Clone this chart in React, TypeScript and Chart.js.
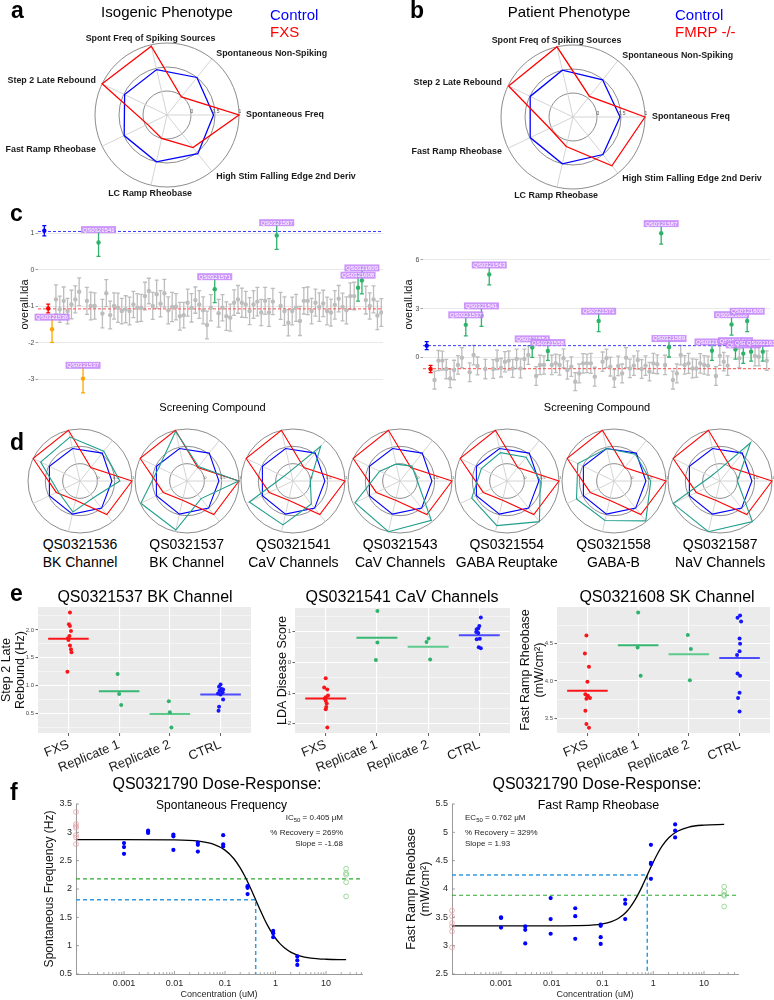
import React, { useEffect, useRef } from 'react';
import { Chart, registerables } from 'chart.js';

Chart.register(...registerables);

const FONT = "'Liberation Sans', Arial, Helvetica, sans-serif";
Chart.defaults.font.family = FONT;
Chart.defaults.color = '#333333';
(Chart.defaults.plugins as any).legend.display = false;
(Chart.defaults.plugins as any).tooltip.enabled = false;

const BLUE = '#0000ff';
const RED = '#ff0000';
const TEAL = '#1f9e8c';
const GRAY = '#bdbdbd';
const GREEN = '#2fb26a';
const ORANGE = '#ffa500';

/* ---------------- radar data (panels a, b, d) ---------------- */
const radarAxes = [
  'Spontaneous Freq',
  'High Stim Falling Edge 2nd Deriv',
  'LC Ramp Rheobase',
  'Fast Ramp Rheobase',
  'Step 2 Late Rebound',
  'Spont Freq of Spiking Sources',
  'Spontaneous Non-Spiking',
];
const radarRingTicks = [0, 0.5, 1];
const isoControl = [0.47, 0.53, 0.5, 0.49, 0.48, 0.47, 0.5];
const isoFXS = [1.0, 0.37, 0.0, -0.05, 1.0, 0.97, -0.02];
const patControl = [0.48, 0.5, 0.5, 0.49, 0.49, 0.5, 0.49];
const patFMRP = [1.0, 0.8, 0.13, 0.04, 0.99, 1.0, 0.05];
const dControl = [0.42, 0.5, 0.48, 0.48, 0.48, 0.46, 0.53];
const dFXS = [1.0, 0.74, 0.07, 0.26, 1.0, 1.0, 0.0];
const dCompounds = ['QS0321536', 'QS0321537', 'QS0321541', 'QS0321543', 'QS0321554', 'QS0321558', 'QS0321587'];
const dTargets = ['BK Channel', 'BK Channel', 'CaV Channels', 'CaV Channels', 'GABA Reuptake', 'GABA-B', 'NaV Channels'];
const dTreated1536 = [0.65, 0.12, 0.42, 0.2, 0.76, 0.8, 0.6];
const dTreated1537 = [0.99, 0.15, 0.95, 0.98, 0.4, 0.97, 0.03];
const dTreated1541 = [0.0, 0.35, 0.8, 0.9, -0.2, -0.2, 0.78];
const dTreated1543 = [0.0, 0.95, 1.0, 0.94, 0.15, 0.0, 0.05];
const dTreated1554 = [0.46, 1.0, 0.82, 0.63, 0.32, 0.34, 0.38];
const dTreated1558 = [0.56, 0.97, 0.67, 0.7, 0.66, 0.46, 0.49];
const dTreated1587 = [0.0, 1.0, 1.0, 1.0, -0.2, -0.2, 0.91];
const dTreated = [dTreated1536, dTreated1537, dTreated1541, dTreated1543, dTreated1554, dTreated1558, dTreated1587];

/* ---------------- panel c data ---------------- */
// kinds: C = control, F = FXS, O = worsening hit, G = rescuing hit, . = other compound
const cLeftKinds = 'CFO.......O...G.............................G...............G....................GG.....';
const cLeftVals = [
  1.07, -1.06, -1.63,
  -0.81, -1.08, -0.85, -1.13, -0.95, -0.81, -0.6,
  -2.98,
  -0.85, -0.99, -0.99,
  0.75,
  -1.2, -0.64, -1.24, -0.99, -1.04, -1.13, -1.08, -1.13, -0.95, -1.04, -1.04, -0.72, -0.58, -0.99, -0.67,
  -0.93, -0.64, -1.11, -1.02, -1.01, -1.27, -1.24, -0.9, -1.04, -0.83, -0.95, -1.11, -1.51, -1.04,
  -0.53,
  -1.19, -1.04, -1.27, -1.31, -0.9, -0.81, -0.9, -0.95, -1.13, -0.95, -0.87, -1.17, -0.85, -1.17, -0.87,
  0.94,
  -0.99, -1.13, -1.45, -1.13, -1.04, -1.4, -0.85, -0.85, -1.13, -0.9, -1.02, -0.92, -1.13, -1.17, -0.96,
  -0.79, -1.02, -1.11, -0.72, -0.72,
  -0.49, -0.29,
  -0.83, -0.99, -0.81, -1.25, -1.17,
];
const cLeftErrs = [
  0.14, 0.12, 0.36,
  0.4, 0.36, 0.38, 0.35, 0.39, 0.37, 0.38,
  0.39,
  0.37, 0.38, 0.36,
  0.38,
  0.39, 0.37, 0.38, 0.36, 0.4, 0.35, 0.37, 0.38, 0.36, 0.39, 0.37, 0.38, 0.35, 0.37, 0.39,
  0.36, 0.38, 0.37, 0.4, 0.36, 0.38, 0.35, 0.37, 0.39, 0.36, 0.38, 0.37, 0.38, 0.36,
  0.37,
  0.38, 0.36, 0.39, 0.37, 0.35, 0.38, 0.4, 0.36, 0.37, 0.38, 0.39, 0.36, 0.37, 0.38, 0.36,
  0.38,
  0.37, 0.39, 0.36, 0.38, 0.37, 0.4, 0.36, 0.38, 0.35, 0.37, 0.39, 0.36, 0.38, 0.37, 0.39,
  0.36, 0.38, 0.37, 0.36, 0.38,
  0.37, 0.37,
  0.38, 0.36, 0.37, 0.39, 0.38,
];
const cLeftHitIdx = [2, 10, 14, 44, 60, 81, 82];
const cLeftHitNames = ['QS0321536', 'QS0321537', 'QS0321541', 'QS0321571', 'QS0321587', 'QS0321608', 'QS0321609'];
const cLeftCtrlMean = 1.05;
const cLeftFxsMean = -1.07;
const cLeftYTicks = [-3, -2, -1, 0, 1];

const cRightKinds = 'CF........G...G.G..........G...G............G...............G.G..........G....GG.GGG..G.';
const cRightVals = [
  0.72, -0.72,
  -1.4, -0.2, -0.2, -0.72, -1.3, -0.78, -0.47, -0.02,
  2.0,
  -0.92, 0.14, -0.53,
  2.57,
  -0.72,
  5.11,
  -0.72, -0.16, -0.64, -0.27, -0.2, -0.68, -0.1, -0.68, -0.1, 0.14,
  0.6,
  -1.15, -0.47, -0.47,
  0.39,
  -0.47, -0.37, -0.47, -0.06, -0.78, -0.57, -1.5, -0.99, -0.37, -0.37, -0.37, -1.19,
  2.24,
  -0.27, -0.06, -0.57, -1.3, -0.53, -0.99, -0.02, -0.68, -0.51, -0.16, -0.72, -0.51, -0.88, -0.37, -0.43,
  7.64,
  -0.47,
  0.62,
  -1.4, -0.99, 0.14, -0.47, -0.37, -0.68, -0.68, -0.37, -0.47, -0.51,
  0.41,
  -1.15, 0.1, -0.27, -0.51,
  2.03, 0.49,
  -0.06,
  0.23, 2.24, 0.35,
  0.08, 0.04,
  0.35,
  -0.2,
];
const cRightErrs = [
  0.25, 0.22,
  0.55, 0.62, 0.58, 0.6, 0.56, 0.6, 0.57, 0.62,
  0.68,
  0.58, 0.6, 0.55,
  0.66,
  0.6,
  0.64,
  0.58, 0.6, 0.57, 0.62, 0.59, 0.56, 0.6, 0.58, 0.61, 0.57,
  0.6,
  0.58, 0.6, 0.56,
  0.58,
  0.6, 0.57, 0.62, 0.58, 0.56, 0.6, 0.55, 0.58, 0.6, 0.57, 0.62, 0.58,
  0.66,
  0.6, 0.57, 0.58, 0.55, 0.6, 0.58, 0.62, 0.57, 0.6, 0.56, 0.58, 0.6, 0.57, 0.61, 0.58,
  0.66,
  0.6,
  0.6,
  0.55, 0.58, 0.6, 0.57, 0.62, 0.58, 0.56, 0.6, 0.57, 0.59,
  0.6,
  0.58, 0.6, 0.57, 0.6,
  0.66, 0.6,
  0.58,
  0.6, 0.66, 0.58,
  0.6, 0.57,
  0.58,
  0.6,
];
const cRightHitIdx = [10, 14, 16, 27, 31, 44, 60, 62, 73, 78, 79, 81, 82, 83, 86];
const cRightHitNames = ['QS0321537', 'QS0321541', 'QS0321543', 'QS0321554', 'QS0321558', 'QS0321571', 'QS0321587',
  'QS0321589', 'QS0321596', 'QS0321608', 'QS0321605', 'QS0321606', 'QS0321609', 'QS0321610', 'QS0321612'];
const cRightCtrlMean = 0.72;
const cRightFxsMean = -0.7;
const cRightYTicks = [0, 3, 6];

/* ---------------- panel e data ---------------- */
const eCats = ['FXS', 'Replicate 1', 'Replicate 2', 'CTRL'];
const eLeftFXS = [2.31, 2.1, 2.07, 1.98, 1.89, 1.85, 1.82, 1.72, 1.65, 1.6, 1.25];
const eLeftRep1 = [1.21, 0.85, 0.65];
const eLeftRep2 = [0.72, 0.52, 0.25];
const eLeftCTRL = [1.02, 0.98, 0.94, 0.93, 0.91, 0.88, 0.86, 0.84, 0.75, 0.62, 0.55];
const eLeftJitter = [
  [0.03, 0.01, 0.03, 0.05, 0.02, -0.01, 0.0, 0.03, 0.05, 0.06, -0.02],
  [-0.03, 0.0, 0.04],
  [-0.02, 0.0, 0.03],
  [0.0, -0.03, 0.02, 0.05, -0.02, 0.04, -0.05, 0.0, 0.05, -0.03, -0.04],
];
const eLeftMeans = [1.84, 0.9, 0.49, 0.84];
const eLeftMajor = [0.5, 1.0, 1.5, 2.0];
const eLeftMinor = [0.25, 0.75, 1.25, 1.75, 2.25];

const eMidFXS = [-0.52, -0.82, -0.88, -1.08, -1.14, -1.18, -1.25, -1.34, -1.45, -1.53, -2.12];
const eMidRep1 = [1.67, 0.65, 0.08];
const eMidRep2 = [0.78, 0.66, 0.09];
const eMidCTRL = [1.46, 1.18, 1.1, 1.08, 0.99, 0.96, 0.77, 0.75, 0.49, 0.46];
const eMidJitter = [
  [0.0, -0.03, 0.03, 0.045, 0.0, -0.02, 0.0, 0.02, 0.01, 0.0, 0.03],
  [0.01, 0.01, -0.02],
  [0.01, -0.03, 0.04],
  [0.03, 0.0, -0.02, -0.05, -0.06, -0.02, 0.01, -0.05, -0.01, 0.03],
];
const eMidMeans = [-1.18, 0.8, 0.51, 0.88];
const eMidMajor = [-2, -1, 0, 1];
const eMidMinor = [-1.5, -0.5, 0.5, 1.5];

const eRightFXS = [4.61, 4.37, 4.19, 3.99, 3.82, 3.8, 3.79, 3.77, 3.76, 3.6, 3.42, 3.37];
const eRightRep1 = [4.92, 4.45, 4.07];
const eRightRep2 = [4.62, 4.43, 4.01];
const eRightCTRL = [4.88, 4.85, 4.8, 4.57, 4.5, 4.4, 4.35, 4.1, 4.07, 3.84, 3.77, 3.59];
const eRightJitter = [
  [-0.02, -0.05, 0.03, 0.0, -0.04, 0.01, 0.0, 0.05, -0.02, -0.04, -0.02, 0.03],
  [0.0, -0.01, 0.05],
  [-0.02, 0.04, 0.02],
  [0.01, -0.04, 0.03, 0.0, 0.01, 0.0, -0.05, -0.04, 0.01, 0.0, -0.03, 0.0],
];
const eRightMeans = [3.87, 4.48, 4.36, 4.31];
const eRightMajor = [3.5, 4.0, 4.5];
const eRightMinor = [3.75, 4.25, 4.75];

/* ---------------- panel f data ---------------- */
const fMajorTicks = [0.001, 0.01, 0.1, 1, 10];
const fTickLabels = ['0.001', '0.01', '0.1', '1', '10'];

const fLeftDoseX = [0.001, 0.001, 0.001, 0.003, 0.003, 0.003, 0.0095, 0.0095, 0.0095, 0.029, 0.029, 0.029,
  0.092, 0.092, 0.092, 0.28, 0.28, 0.28, 0.9, 0.9, 0.9, 2.7, 2.7, 2.7];
const fLeftDoseY = [2.81, 2.74, 2.62, 3.03, 3.01, 2.99, 2.96, 2.93, 2.69, 2.82, 2.78, 2.66,
  2.95, 2.79, 2.75, 2.05, 2.02, 1.91, 1.26, 1.22, 1.15, 0.81, 0.74, 0.66];
const fLeftFXS = [3.36, 3.15, 3.11, 3.08, 2.95, 2.91, 2.79];
const fLeftCTRL = [2.36, 2.28, 2.25, 2.12, 1.87];
const fLeftCurveX = [0.000112, 0.001, 0.01, 0.03, 0.06, 0.1, 0.15, 0.2, 0.25, 0.3, 0.35, 0.405, 0.5, 0.6, 0.7,
  0.85, 1, 1.2, 1.5, 2, 3, 5, 10, 25];
const fLeftCurveY = [2.87, 2.87, 2.866, 2.844, 2.788, 2.686, 2.534, 2.373, 2.217, 2.072, 1.939, 1.81, 1.624,
  1.472, 1.354, 1.224, 1.131, 1.044, 0.962, 0.886, 0.821, 0.781, 0.76, 0.752];
const fLeftYTicks = [0.5, 1, 1.5, 2, 2.5, 3, 3.5];

const fRightDoseX = [0.001, 0.001, 0.001, 0.003, 0.003, 0.003, 0.0095, 0.0095, 0.0095, 0.029, 0.029, 0.029,
  0.092, 0.092, 0.092, 0.092, 0.28, 0.28, 0.28, 0.9, 0.9, 0.9, 0.9, 2.7, 2.7, 2.7];
const fRightDoseY = [3.5, 3.49, 3.32, 3.34, 3.28, 3.04, 3.84, 3.47, 3.21, 3.66, 3.52, 3.12,
  3.37, 3.35, 3.15, 3.03, 3.81, 3.74, 3.47, 4.78, 4.46, 4.44, 4.18, 5.14, 5.03, 4.91];
const fRightFXS = [3.62, 3.52, 3.4, 3.34, 3.25, 2.97];
const fRightCTRL = [4.04, 3.95, 3.9, 3.88, 3.69];
const fRightCurveX = [0.000108, 0.001, 0.01, 0.03, 0.06, 0.1, 0.15, 0.2, 0.25, 0.3, 0.35, 0.45, 0.5, 0.6, 0.762,
  0.9, 1, 1.2, 1.5, 2, 3, 5, 10, 25];
const fRightCurveY = [3.35, 3.35, 3.35, 3.354, 3.363, 3.385, 3.425, 3.476, 3.536, 3.604, 3.676, 3.826, 3.9,
  4.042, 4.245, 4.387, 4.474, 4.614, 4.759, 4.9, 5.02, 5.094, 5.128, 5.14];
const fRightYTicks = [2.5, 3, 3.5, 4, 4.5, 5, 5.5];

/* ---------------- helpers ---------------- */
const fixW = (w: number) => (s: any) => {
  s.width = w;
  s.paddingLeft = 0; s.paddingRight = 0; s.paddingTop = 0; s.paddingBottom = 0;
};
const fixH = (h: number) => (s: any) => {
  s.height = h;
  s.paddingLeft = 0; s.paddingRight = 0; s.paddingTop = 0; s.paddingBottom = 0;
};

function radarDecor(showLabels: boolean, tickFont: number) {
  return {
    id: 'radarDecor',
    afterDraw(chart: any) {
      const s = chart.scales.r;
      const ctx = chart.ctx;
      ctx.save();
      if (tickFont > 0) {
        ctx.font = `${tickFont}px ${FONT}`;
        ctx.fillStyle = '#555';
        ctx.textAlign = 'center';
        ctx.textBaseline = 'bottom';
        radarRingTicks.forEach((v) => {
          const p = s.getPointPositionForValue(0, v);
          ctx.fillText(String(v), p.x + 1, p.y - 1);
        });
      }
      if (showLabels) {
        ctx.font = `bold 8.9px ${FONT}`;
        ctx.fillStyle = '#1a1a1a';
        chart.data.labels.forEach((lab: string, i: number) => {
          const a = s.getIndexAngle(i) - Math.PI / 2;
          const c = Math.cos(a);
          const sn = Math.sin(a);
          let off: number;
          if (Math.abs(c) > 0.3) {
            off = 7;
            ctx.textAlign = c > 0 ? 'left' : 'right';
            ctx.textBaseline = 'middle';
          } else {
            off = sn < 0 ? 2 : 4;
            ctx.textAlign = 'center';
            ctx.textBaseline = sn < 0 ? 'bottom' : 'top';
          }
          const p = s.getPointPosition(i, s.drawingArea + off);
          ctx.fillText(lab, p.x, p.y);
        });
      }
      ctx.restore();
    },
  };
}

function radarConfig(series: { data: number[]; color: string }[], pad: any, showLabels: boolean, tickFont: number, lw: number) {
  return {
    type: 'radar',
    data: {
      labels: radarAxes,
      datasets: series.map((s) => ({
        data: s.data, borderColor: s.color, backgroundColor: 'rgba(0,0,0,0)', borderWidth: lw,
        pointRadius: 0, fill: false, tension: 0,
      })),
    },
    options: {
      responsive: false, animation: false, devicePixelRatio: 1,
      layout: { padding: pad },
      scales: {
        r: {
          min: -0.5, max: 1, startAngle: 90,
          afterBuildTicks: (s: any) => { s.ticks = [-0.5, ...radarRingTicks].map((v) => ({ value: v })); },
          ticks: { display: false },
          pointLabels: { display: false },
          grid: { circular: true, color: '#808080', lineWidth: 0.9 },
          angleLines: { color: '#cfcfcf', lineWidth: 0.9 },
        },
      },
    },
    plugins: [radarDecor(showLabels, tickFont)],
  };
}

const errPlugin = {
  id: 'errBars',
  beforeDatasetsDraw(chart: any) {
    const { ctx } = chart;
    const x = chart.scales.x;
    const y = chart.scales.y;
    ctx.save();
    chart.data.datasets.forEach((ds: any) => {
      if (!ds.errBars) return;
      ctx.strokeStyle = ds.backgroundColor;
      ctx.lineWidth = 1.3;
      ctx.beginPath();
      ds.data.forEach((p: any) => {
        const px = x.getPixelForValue(p.x);
        const y1 = y.getPixelForValue(p.y - p.e);
        const y2 = y.getPixelForValue(p.y + p.e);
        ctx.moveTo(px, y1); ctx.lineTo(px, y2);
        ctx.moveTo(px - 2, y1); ctx.lineTo(px + 2, y1);
        ctx.moveTo(px - 2, y2); ctx.lineTo(px + 2, y2);
      });
      ctx.stroke();
    });
    ctx.restore();
  },
  afterDatasetsDraw(chart: any) {
    const { ctx } = chart;
    const x = chart.scales.x;
    const y = chart.scales.y;
    ctx.save();
    ctx.font = `6px ${FONT}`;
    ctx.textAlign = 'center';
    ctx.textBaseline = 'middle';
    chart.data.datasets.forEach((ds: any) => {
      if (!ds.errBars) return;
      ds.data.forEach((p: any) => {
        if (!p.name) return;
        const px = x.getPixelForValue(p.x);
        const py = y.getPixelForValue(p.y + p.e) + 1;
        const w = ctx.measureText(p.name).width + 3;
        ctx.fillStyle = 'rgba(196,132,250,0.85)';
        ctx.fillRect(px - w / 2, py - 3.5, w, 7);
        ctx.fillStyle = '#ffffff';
        ctx.fillText(p.name, px, py + 0.3);
      });
    });
    ctx.restore();
  },
};

function cConfig(vals: number[], errs: number[], kinds: string, hitIdx: number[], hitNames: string[],
  ctrlMean: number, fxsMean: number, yTicks: number[], sc: any, dims: any) {
  const pts = vals.map((v, i) => ({ x: i, y: v, e: errs[i], name: hitIdx.indexOf(i) >= 0 ? hitNames[hitIdx.indexOf(i)] : '' }));
  const pick = (k: string) => pts.filter((_, i) => kinds[i] === k);
  const dot = (k: string, color: string, order: number) => ({
    type: 'scatter', data: pick(k), backgroundColor: color, borderColor: color, borderWidth: 0,
    pointRadius: 2.2, errBars: true, order,
  });
  const hline = (v: number, color: string) => ({
    type: 'line', data: [{ x: sc.xMin, y: v }, { x: sc.xMax, y: v }], borderColor: color, borderWidth: 1,
    borderDash: [3, 2], pointRadius: 0, order: 9,
  });
  return {
    type: 'scatter',
    data: {
      datasets: [dot('.', GRAY, 5), dot('G', GREEN, 2), dot('O', ORANGE, 2), dot('C', BLUE, 2), dot('F', RED, 2),
        hline(ctrlMean, '#3b3bff'), hline(fxsMean, '#ff4a4a')],
    },
    options: {
      responsive: false, animation: false, devicePixelRatio: 1,
      layout: { padding: { left: 0, top: dims.padT, right: dims.padR, bottom: dims.padB } },
      scales: {
        x: { type: 'linear', min: sc.xMin, max: sc.xMax, display: false },
        y: {
          min: sc.yMin, max: sc.yMax,
          afterBuildTicks: (s: any) => { s.ticks = yTicks.map((v) => ({ value: v })); },
          afterFit: fixW(dims.yw),
          ticks: { font: { size: 7 }, color: '#4d4d4d', padding: 1 },
          grid: { color: '#e3e3e3', lineWidth: 0.8, tickLength: 2.5, tickColor: '#666', tickWidth: 0.6 },
          border: { display: false },
          title: { display: true, text: 'overall.lda', font: { size: 11 }, color: '#111', padding: 0 },
        },
      },
    },
    plugins: [errPlugin],
  };
}

const panelBg = (color: string) => ({
  id: 'panelBg',
  beforeDraw(chart: any) {
    const a = chart.chartArea;
    chart.ctx.save();
    chart.ctx.fillStyle = color;
    chart.ctx.fillRect(a.left, a.top, a.right - a.left, a.bottom - a.top);
    chart.ctx.restore();
  },
});

const E_POINT = ['#f8161b', '#2fb36c', '#2fb36c', '#1616ff'];
const E_LINE = ['#f8161b', '#36b873', '#5cc98d', '#4c4cff'];

function eConfig(groups: number[][], jits: number[][], means: number[], ax: any, dims: any) {
  const datasets: any[] = [];
  groups.forEach((g, k) => datasets.push({
    type: 'scatter', data: g.map((v, i) => ({ x: k + 1 + jits[k][i], y: v })), backgroundColor: E_POINT[k],
    borderWidth: 0, pointRadius: 2, order: 1,
  }));
  means.forEach((m, k) => datasets.push({
    type: 'line', data: [{ x: k + 0.6, y: m }, { x: k + 1.4, y: m }], borderColor: E_LINE[k], borderWidth: 2,
    pointRadius: 0, order: 2,
  }));
  const ticks = [...ax.major, ...ax.minor].sort((a: number, b: number) => a - b);
  const isMajor = (v: number) => ax.major.some((m: number) => Math.abs(m - v) < 1e-9);
  return {
    type: 'scatter',
    data: { datasets },
    options: {
      responsive: false, animation: false, devicePixelRatio: 1,
      layout: { padding: { left: 0, top: dims.padT, right: dims.padR, bottom: 0 } },
      scales: {
        x: {
          type: 'linear', min: 0.4, max: 4.6,
          afterBuildTicks: (s: any) => { s.ticks = eCats.map((_, i) => ({ value: i + 1 })); },
          afterFit: fixH(dims.xh),
          ticks: {
            autoSkip: false, minRotation: 22, maxRotation: 22, padding: 1, font: { size: 13 }, color: '#1a1a1a',
            callback: (v: number) => eCats[Math.round(v) - 1],
          },
          grid: { color: '#ffffff', lineWidth: 1.1, tickLength: 3, tickColor: '#333', tickWidth: 0.8 },
          border: { display: false },
        },
        y: {
          min: ax.min, max: ax.max,
          afterBuildTicks: (s: any) => { s.ticks = ticks.map((v: number) => ({ value: v })); },
          afterFit: fixW(dims.yw),
          ticks: { font: { size: 6 }, color: '#4d4d4d', padding: 1.5, callback: (v: number) => (isMajor(v) ? ax.fmt(v) : '') },
          grid: {
            color: '#ffffff',
            lineWidth: (c: any) => (c.tick && isMajor(c.tick.value) ? 1.1 : 0.5),
            tickLength: 2.5,
            tickColor: (c: any) => (c.tick && isMajor(c.tick.value) ? '#333' : 'rgba(0,0,0,0)'),
            tickWidth: 0.8,
          },
          border: { display: false },
          title: {
            display: true, text: ax.title, font: { size: 12.5, lineHeight: 1.1 }, color: '#111',
            padding: { top: ax.titlePad, bottom: 0 },
          },
        },
      },
    },
    plugins: [panelBg('#ebebeb')],
  };
}

const inTicks = {
  id: 'inTicks',
  afterDraw(chart: any) {
    const { ctx, chartArea: a } = chart;
    const x = chart.scales.x;
    const y = chart.scales.y;
    ctx.save();
    ctx.strokeStyle = '#8c8c8c';
    ctx.lineWidth = 0.8;
    ctx.beginPath();
    x.ticks.forEach((t: any) => {
      const px = x.getPixelForValue(t.value);
      const lg = Math.log10(t.value);
      const major = Math.abs(lg - Math.round(lg)) < 1e-6;
      ctx.moveTo(px, a.bottom);
      ctx.lineTo(px, a.bottom - (major ? 3 : 1.8));
    });
    y.ticks.forEach((t: any) => {
      const py = y.getPixelForValue(t.value);
      ctx.moveTo(a.left, py);
      ctx.lineTo(a.left + 3, py);
    });
    ctx.stroke();
    ctx.restore();
  },
};

function logTicks(min: number, max: number) {
  const out: number[] = [];
  for (let e = -5; e <= 2; e++) {
    for (let m = 1; m <= 9; m++) {
      const v = m * Math.pow(10, e);
      if (v >= min && v <= max) out.push(v);
    }
  }
  return out;
}
const fmtLog = (v: number) => {
  const i = fMajorTicks.findIndex((m) => Math.abs(v - m) / m < 1e-6);
  return i >= 0 ? fTickLabels[i] : '';
};

function fConfig(o: any) {
  const datasets = [
    { type: 'scatter', data: o.doseX.map((x: number, i: number) => ({ x, y: o.doseY[i] })), backgroundColor: BLUE, borderWidth: 0, pointRadius: 2.1, order: 1 },
    { type: 'scatter', data: o.fxsY.map((y: number) => ({ x: o.xMin, y })), backgroundColor: 'rgba(0,0,0,0)', borderColor: '#e7a1a6', borderWidth: 0.8, pointRadius: 2.4, clip: false, order: 1 },
    { type: 'scatter', data: o.ctrlY.map((y: number) => ({ x: o.ctrlX, y })), backgroundColor: 'rgba(0,0,0,0)', borderColor: '#86cf86', borderWidth: 0.8, pointRadius: 2.4, clip: false, order: 1 },
    { type: 'line', data: o.curveX.map((x: number, i: number) => ({ x, y: o.curveY[i] })), borderColor: '#000', borderWidth: 1.3, pointRadius: 0, cubicInterpolationMode: 'monotone', order: 2 },
    { type: 'line', data: [{ x: o.xMin, y: o.ctrlLevel }, { x: o.xMax, y: o.ctrlLevel }], borderColor: '#2ca82c', borderWidth: 1.2, borderDash: [4, 3], pointRadius: 0, order: 3 },
    { type: 'line', data: [{ x: o.xMin, y: o.half }, { x: o.ec50, y: o.half }, { x: o.ec50, y: o.yMin }], borderColor: '#3399e0', borderWidth: 1.5, borderDash: [4, 3], pointRadius: 0, order: 3 },
  ];
  return {
    type: 'scatter',
    data: { datasets },
    options: {
      responsive: false, animation: false, devicePixelRatio: 1,
      layout: { padding: { left: 0, top: o.dims.padT, right: o.dims.padR, bottom: 0 } },
      scales: {
        x: {
          type: 'logarithmic', min: o.xMin, max: o.xMax,
          afterBuildTicks: (s: any) => { s.ticks = logTicks(o.xMin, o.xMax).map((v) => ({ value: v })); },
          afterFit: fixH(o.dims.xh),
          ticks: { autoSkip: false, minRotation: 0, maxRotation: 0, font: { size: 9 }, color: '#262626', padding: 4, callback: fmtLog },
          grid: { drawOnChartArea: false, drawTicks: false },
          border: { display: true, color: '#9a9a9a', width: 1 },
          title: { display: true, text: 'Concentration (uM)', font: { size: 9 }, color: '#262626', padding: 0 },
        },
        y: {
          min: o.yMin, max: o.yMax,
          afterBuildTicks: (s: any) => { s.ticks = o.yTicks.map((v: number) => ({ value: v })); },
          afterFit: fixW(o.dims.yw),
          ticks: { font: { size: 9 }, color: '#262626', padding: 4, callback: (v: number) => String(v) },
          grid: { drawOnChartArea: false, drawTicks: false },
          border: { display: true, color: '#9a9a9a', width: 1 },
          title: { display: true, text: o.yTitle, font: { size: o.yTitleSize, lineHeight: 1.15 }, color: '#111', padding: { top: o.titlePad, bottom: 0 } },
        },
      },
    },
    plugins: [inTicks],
  };
}

/* ---------------- components ---------------- */
function ChartCanvas({ left, top, width, height, make }: any) {
  const ref = useRef<HTMLCanvasElement>(null);
  useEffect(() => {
    const chart = new Chart(ref.current as HTMLCanvasElement, make());
    return () => chart.destroy();
  }, []);
  return <canvas ref={ref} width={width} height={height} style={{ position: 'absolute', left, top, width, height }} />;
}

function Txt({ x, base, size, align = 'left', bold = false, color = '#000', children }: any) {
  const tx = align === 'center' ? 'translateX(-50%)' : align === 'right' ? 'translateX(-100%)' : 'none';
  return (
    <div style={{
      position: 'absolute', left: x, top: base - 0.8465 * size, fontSize: size, lineHeight: `${size}px`,
      fontWeight: bold ? 700 : 400, color, whiteSpace: 'nowrap', transform: tx, fontFamily: FONT,
    }}>{children}</div>
  );
}

const subStyle: any = { fontSize: '0.75em', lineHeight: 0, verticalAlign: '-0.25em' };

export default function App() {
  const dCenters = dCompounds.map((_, i) => 80 + i * 106.7);
  return (
    <div style={{ position: 'absolute', left: 0, top: 0, width: 774, height: 1000, background: '#fff', overflow: 'hidden', fontFamily: FONT }}>
      {/* a & b */}
      <ChartCanvas left={0} top={20} width={390} height={180}
        make={() => radarConfig([{ data: isoFXS, color: RED }, { data: isoControl, color: BLUE }], { left: 95, right: 151, top: 23, bottom: 13 }, true, 5, 1.3)} />
      <ChartCanvas left={390} top={20} width={384} height={180}
        make={() => radarConfig([{ data: patFMRP, color: RED }, { data: patControl, color: BLUE }], { left: 111, right: 129, top: 25, bottom: 11 }, true, 5, 1.3)} />

      {/* c */}
      <ChartCanvas left={18} top={210} width={372} height={190}
        make={() => cConfig(cLeftVals, cLeftErrs, cLeftKinds, cLeftHitIdx, cLeftHitNames, cLeftCtrlMean, cLeftFxsMean, cLeftYTicks,
          { xMin: -1.63, xMax: 87.44, yMin: -3.43, yMax: 1.53 }, { yw: 20, padT: 4, padR: 7, padB: 5 })} />
      <ChartCanvas left={402} top={210} width={372} height={190}
        make={() => cConfig(cRightVals, cRightErrs, cRightKinds, cRightHitIdx, cRightHitNames, cRightCtrlMean, cRightFxsMean, cRightYTicks,
          { xMin: -0.95, xMax: 87.84, yMin: -2.32, yMax: 8.83 }, { yw: 21, padT: 4, padR: 4, padB: 5 })} />

      {/* d */}
      {dCompounds.map((c, i) => (
        <ChartCanvas key={c} left={Math.round(dCenters[i] - 54)} top={427} width={108} height={108}
          make={() => radarConfig([{ data: dTreated[i], color: TEAL }, { data: dFXS, color: RED }, { data: dControl, color: BLUE }],
            { left: 2, right: 2, top: 2, bottom: 2 }, false, 4, 1.1)} />
      ))}

      {/* e */}
      <ChartCanvas left={0} top={603} width={256} height={180}
        make={() => eConfig([eLeftFXS, eLeftRep1, eLeftRep2, eLeftCTRL], eLeftJitter, eLeftMeans,
          { min: 0.15, max: 2.41, major: eLeftMajor, minor: eLeftMinor, fmt: (v: number) => v.toFixed(1), title: ['Step 2 Late', 'Rebound (Hz)'], titlePad: 0 },
          { yw: 38, padT: 2, padR: 5, xh: 50 })} />
      <ChartCanvas left={262} top={603} width={252} height={180}
        make={() => eConfig([eMidFXS, eMidRep1, eMidRep2, eMidCTRL], eMidJitter, eMidMeans,
          { min: -2.3, max: 1.77, major: eMidMajor, minor: eMidMinor, fmt: (v: number) => String(v), title: 'LDA Disease Score', titlePad: 14 },
          { yw: 33, padT: 5, padR: 3, xh: 50 })} />
      <ChartCanvas left={515} top={603} width={259} height={180}
        make={() => eConfig([eRightFXS, eRightRep1, eRightRep2, eRightCTRL], eRightJitter, eRightMeans,
          { min: 3.3, max: 4.995, major: eRightMajor, minor: eRightMinor, fmt: (v: number) => v.toFixed(1), title: ['Fast Ramp Rheobase', '(mW/cm²)'], titlePad: 4 },
          { yw: 42, padT: 2, padR: 4, xh: 50 })} />

      {/* f */}
      <ChartCanvas left={36} top={798} width={334} height={202}
        make={() => fConfig({
          xMin: 0.000112, xMax: 51.6, yMin: 0.5, yMax: 3.5, yTicks: fLeftYTicks,
          doseX: fLeftDoseX, doseY: fLeftDoseY, fxsY: fLeftFXS, ctrlY: fLeftCTRL, ctrlX: 25,
          curveX: fLeftCurveX, curveY: fLeftCurveY, ctrlLevel: 2.18, ec50: 0.405, half: 1.81,
          yTitle: 'Spontaneous Frequency (Hz)', yTitleSize: 12, titlePad: 7,
          dims: { yw: 40, padT: 6, padR: 8, xh: 26 },
        })} />
      <ChartCanvas left={400} top={798} width={374} height={202}
        make={() => fConfig({
          xMin: 0.000108, xMax: 46.8, yMin: 2.5, yMax: 5.5, yTicks: fRightYTicks,
          doseX: fRightDoseX, doseY: fRightDoseY, fxsY: fRightFXS, ctrlY: fRightCTRL, ctrlX: 25,
          curveX: fRightCurveX, curveY: fRightCurveY, ctrlLevel: 3.89, ec50: 0.762, half: 4.245,
          yTitle: ['Fast Ramp Rheobase', '(mW/cm²)'], yTitleSize: 12.5, titlePad: 4,
          dims: { yw: 52, padT: 6, padR: 36, xh: 26 },
        })} />

      {/* texts */}
      <Txt x={11} base={18.3} size={23} bold>a</Txt>
      <Txt x={410} base={18.3} size={23} bold>b</Txt>
      <Txt x={10} base={221.7} size={23} bold>c</Txt>
      <Txt x={10} base={450} size={23} bold>d</Txt>
      <Txt x={10} base={601.7} size={23} bold>e</Txt>
      <Txt x={10} base={800} size={23} bold>f</Txt>

      <Txt x={167} base={16.5} size={15} align="center">Isogenic Phenotype</Txt>
      <Txt x={270} base={20} size={15} color={BLUE}>Control</Txt>
      <Txt x={270} base={36.7} size={15} color={RED}>FXS</Txt>
      <Txt x={569} base={16.5} size={15} align="center">Patient Phenotype</Txt>
      <Txt x={675} base={20} size={15} color={BLUE}>Control</Txt>
      <Txt x={675} base={36.7} size={15} color={RED}>FMRP -/-</Txt>

      <Txt x={212.5} base={411.5} size={11} align="center">Screening Compound</Txt>
      <Txt x={597} base={411.5} size={11} align="center">Screening Compound</Txt>

      {dCompounds.map((c, i) => (
        <React.Fragment key={c}>
          <Txt x={dCenters[i]} base={549} size={14} align="center">{c}</Txt>
          <Txt x={dCenters[i]} base={566.5} size={14} align="center">{dTargets[i]}</Txt>
        </React.Fragment>
      ))}

      <Txt x={145} base={602.5} size={16} align="center">QS0321537 BK Channel</Txt>
      <Txt x={402} base={602.5} size={16} align="center">QS0321541 CaV Channels</Txt>
      <Txt x={667} base={602.5} size={16} align="center">QS0321608 SK Channel</Txt>

      <Txt x={217} base={790} size={16} align="center">QS0321790 Dose-Response:</Txt>
      <Txt x={597} base={790} size={16} align="center">QS0321790 Dose-Response:</Txt>
      <Txt x={221.5} base={809} size={12} align="center">Spontaneous Frequency</Txt>
      <Txt x={598.5} base={809.5} size={12.5} align="center">Fast Ramp Rheobase</Txt>

      <Txt x={343} base={821} size={8} align="right" color="#222">IC<sub style={subStyle}>50</sub> = 0.405 μM</Txt>
      <Txt x={343} base={836} size={8} align="right" color="#222">% Recovery = 269%</Txt>
      <Txt x={343} base={846.5} size={8} align="right" color="#222">Slope = -1.68</Txt>
      <Txt x={465} base={821} size={8} color="#222">EC<sub style={subStyle}>50</sub> = 0.762 μM</Txt>
      <Txt x={465} base={836} size={8} color="#222">% Recovery = 329%</Txt>
      <Txt x={465} base={847} size={8} color="#222">Slope = 1.93</Txt>
    </div>
  );
}
